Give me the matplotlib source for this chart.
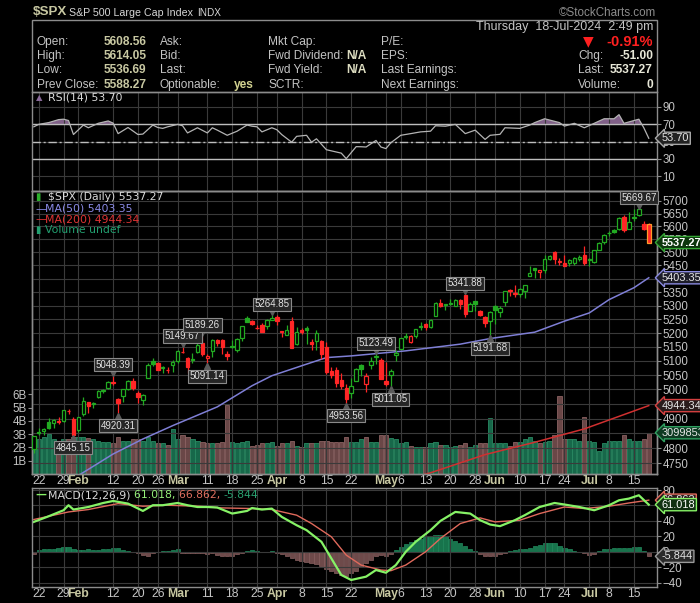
import pandas as pd
import matplotlib
matplotlib.use("Agg")
import matplotlib.pyplot as plt
from matplotlib import transforms
from matplotlib.patches import Rectangle
from matplotlib.ticker import NullLocator

plt.rcParams['font.family'] = ['Liberation Sans', 'DejaVu Sans']

# ---------------- data ----------------
holidays = ['2024-02-19', '2024-03-29', '2024-05-27', '2024-06-19', '2024-07-04']
days = pd.bdate_range('2024-01-19', '2024-07-18')
days = days[~days.isin(pd.to_datetime(holidays))]

opens = [
    4796.28, 4853.42, 4856.80, 4888.56, 4886.66,
    4888.91, 4892.95, 4925.89, 4899.19, 4861.11,
    4916.06, 4957.19, 4950.16, 4973.05, 4995.16,
    5004.17, 5026.83, 4967.94, 4976.44, 5003.14,
    5031.13, 4989.32, 4963.03, 5038.83, 5100.92,
    5093.00, 5074.60, 5067.20, 5085.36, 5098.51,
    5130.99, 5110.52, 5108.03, 5132.38, 5164.46,
    5111.96, 5134.30, 5173.49, 5175.14, 5123.31,
    5154.77, 5139.09, 5181.69, 5253.43, 5242.48,
    5219.52, 5228.85, 5226.31, 5248.03, 5257.97,
    5204.29, 5194.37, 5244.05, 5158.95, 5211.37,
    5217.03, 5167.88, 5172.95, 5171.51, 5149.67,
    5064.59, 5068.97, 5031.52, 5005.44, 4987.33,
    5028.85, 5084.86, 5019.88, 5084.65, 5114.13,
    5103.78, 5029.03, 5049.32, 5122.78, 5142.42,
    5187.20, 5168.98, 5189.03, 5225.49, 5233.08,
    5221.10, 5263.26, 5310.07, 5303.10, 5305.35,
    5298.69, 5319.28, 5340.26, 5281.45, 5315.91,
    5278.73, 5259.77, 5243.21, 5297.15, 5278.24,
    5314.48, 5357.80, 5343.81, 5341.22, 5353.00,
    5409.13, 5441.93, 5424.08, 5431.11, 5476.15,
    5499.99, 5466.77, 5459.58, 5460.73, 5460.71,
    5473.59, 5488.48, 5471.08, 5461.84, 5507.44,
    5537.91, 5572.75, 5584.24, 5591.26, 5635.21,
    5590.76, 5638.16, 5644.09, 5610.07, 5608.56,
]
highs = [
    4842.07, 4868.41, 4866.48, 4903.68, 4898.15,
    4906.69, 4929.31, 4931.09, 4906.75, 4906.97,
    4975.29, 4957.19, 4957.77, 4999.89, 5000.40,
    5030.06, 5048.39, 4971.30, 5002.52, 5032.72,
    5038.70, 4993.71, 4983.21, 5094.39, 5111.06,
    5097.66, 5080.69, 5077.37, 5104.99, 5140.33,
    5149.67, 5114.54, 5127.97, 5165.62, 5189.26,
    5124.66, 5179.87, 5179.14, 5176.85, 5136.86,
    5175.60, 5180.31, 5226.19, 5261.10, 5246.09,
    5229.09, 5235.16, 5249.26, 5264.85, 5263.95,
    5208.34, 5228.75, 5256.59, 5222.18, 5219.57,
    5224.81, 5178.43, 5211.78, 5175.03, 5168.43,
    5079.84, 5077.96, 5056.66, 5019.02, 5038.84,
    5076.12, 5089.48, 5057.75, 5114.62, 5123.49,
    5110.83, 5096.12, 5073.21, 5139.12, 5181.00,
    5200.23, 5191.95, 5215.30, 5239.66, 5237.26,
    5250.37, 5311.76, 5325.49, 5305.45, 5325.32,
    5324.32, 5323.18, 5341.88, 5311.65, 5315.91,
    5282.26, 5260.21, 5280.33, 5302.11, 5298.80,
    5354.16, 5362.35, 5375.08, 5365.79, 5375.95,
    5447.25, 5441.93, 5432.39, 5488.50, 5490.38,
    5505.53, 5478.31, 5490.66, 5472.88, 5483.14,
    5490.81, 5523.64, 5479.55, 5509.69, 5539.27,
    5570.33, 5583.11, 5590.75, 5635.39, 5642.45,
    5655.56, 5666.94, 5669.67, 5622.49, 5614.05,
]
lows = [
    4785.87, 4844.05, 4844.37, 4865.94, 4869.34,
    4881.47, 4887.40, 4916.27, 4845.15, 4853.52,
    4907.99, 4918.09, 4934.88, 4969.05, 4987.09,
    5000.34, 5016.83, 4920.31, 4956.45, 4999.44,
    4999.52, 4955.02, 4946.00, 5038.83, 5081.46,
    5068.91, 5057.29, 5058.35, 5061.89, 5094.16,
    5127.18, 5056.82, 5092.22, 5128.21, 5117.50,
    5091.14, 5114.48, 5151.88, 5123.30, 5104.35,
    5145.47, 5131.59, 5171.55, 5240.66, 5229.87,
    5216.09, 5203.42, 5213.92, 5245.82, 5229.20,
    5184.05, 5194.37, 5146.06, 5157.21, 5197.35,
    5160.78, 5138.70, 5138.77, 5107.94, 5052.47,
    5039.83, 5007.25, 5001.89, 4953.56, 4969.40,
    5027.96, 5047.02, 4990.58, 5073.14, 5088.65,
    5035.31, 5013.45, 5011.05, 5101.22, 5142.42,
    5178.96, 5165.86, 5180.41, 5209.68, 5211.16,
    5217.98, 5263.26, 5296.19, 5283.59, 5302.40,
    5297.87, 5286.01, 5256.93, 5278.39, 5280.89,
    5262.70, 5222.10, 5191.68, 5234.32, 5257.63,
    5297.64, 5335.36, 5331.33, 5331.52, 5327.25,
    5409.13, 5402.51, 5403.75, 5420.40, 5471.32,
    5455.56, 5452.03, 5447.59, 5446.56, 5451.87,
    5467.54, 5451.12, 5446.53, 5458.43, 5507.42,
    5531.63, 5562.51, 5574.57, 5586.44, 5576.53,
    5590.44, 5619.85, 5639.02, 5584.81, 5536.69,
]
closes = [
    4839.81, 4850.43, 4864.60, 4868.55, 4894.16,
    4890.97, 4927.93, 4924.97, 4845.65, 4906.19,
    4958.61, 4942.81, 4954.23, 4995.06, 4997.91,
    5026.61, 5021.84, 4953.17, 5000.62, 5029.73,
    5005.57, 4975.51, 4981.80, 5087.03, 5088.80,
    5069.53, 5078.18, 5069.76, 5096.27, 5137.08,
    5130.95, 5078.65, 5104.76, 5157.36, 5123.69,
    5117.94, 5175.27, 5165.31, 5150.48, 5117.09,
    5149.42, 5178.51, 5224.62, 5241.53, 5234.18,
    5218.19, 5203.58, 5248.49, 5254.35, 5243.77,
    5205.81, 5211.49, 5147.21, 5204.34, 5202.39,
    5209.91, 5160.64, 5199.06, 5123.41, 5061.82,
    5051.41, 5022.21, 5011.12, 4967.23, 5010.60,
    5070.55, 5071.63, 5048.42, 5099.96, 5116.17,
    5035.69, 5018.39, 5064.20, 5127.79, 5180.74,
    5187.70, 5187.67, 5214.08, 5222.68, 5221.42,
    5246.68, 5308.15, 5297.10, 5303.27, 5308.13,
    5321.41, 5307.01, 5267.84, 5304.72, 5306.04,
    5266.95, 5235.48, 5277.51, 5283.40, 5291.34,
    5354.03, 5352.96, 5346.99, 5360.79, 5375.32,
    5421.03, 5433.74, 5431.60, 5473.23, 5487.03,
    5473.17, 5464.62, 5447.87, 5469.30, 5477.90,
    5482.87, 5460.48, 5475.09, 5509.01, 5537.02,
    5567.19, 5572.85, 5576.98, 5633.91, 5584.54,
    5615.35, 5631.22, 5667.20, 5588.27, 5537.27,
]
# volume in billions
volume = [
    2.8, 2.6, 2.8, 3.0, 2.6, 2.5, 2.6, 2.6, 2.8, 2.8,
    2.8, 2.7, 2.6, 2.5, 2.4, 2.4, 2.3, 2.8, 2.5, 2.5,
    2.6, 2.6, 2.5, 2.8, 2.5, 2.3, 2.3, 2.2, 3.4, 2.6,
    2.9, 2.8, 2.6, 2.5, 2.4, 2.3, 2.3, 2.3, 2.4, 5.2,
    2.4, 2.3, 2.4, 2.5, 2.1, 2.2, 2.3, 2.3, 2.4, 2.1,
    2.3, 2.3, 2.5, 2.1, 2.05, 2.3, 2.3, 2.3, 2.5, 2.5,
    2.4, 2.4, 2.4, 2.8, 2.4, 2.4, 2.6, 2.8, 2.4, 2.4,
    2.9, 2.95, 2.7, 2.6, 2.3, 2.4, 2.1, 2.0, 2.0, 2.05,
    2.3, 2.4, 2.2, 2.2, 2.0, 2.1, 2.2, 2.3, 2.0, 2.2,
    2.3, 2.3, 4.2, 2.3, 2.3, 2.3, 2.1, 2.4, 2.4, 2.6,
    2.8, 2.5, 2.3, 2.4, 2.5, 2.9, 5.9, 2.6, 2.6, 2.6,
    2.5, 4.3, 2.5, 2.4, 1.7, 2.3, 2.5, 2.5, 2.5, 2.9,
    2.6, 2.5, 2.5, 2.6, 3.1,
]

ma50_day = [8, 16, 22, 28, 37, 44, 48, 54, 59, 64, 75, 86, 92, 101, 107, 112, 116, 121, 124]
ma50_val = [4700, 4781, 4831, 4876, 4940, 5013, 5048, 5083, 5112, 5118, 5136, 5160, 5180,
            5203, 5243, 5273, 5322, 5366, 5403.35]
ma200_day = [76, 80, 91, 101, 111, 124]
ma200_val = [4700, 4719, 4779, 4820, 4865, 4944.34]

rsi_day = [0, 1, 3, 5, 6, 7, 8, 10, 11, 13, 15, 16, 17, 19, 21, 22, 24, 25, 26, 27,
           29, 30, 31, 33, 35, 36, 37, 39, 41, 43, 44, 45, 46, 48, 49, 50, 52, 53, 54, 55,
           56, 57, 59, 62, 63, 65, 66, 67, 69, 70, 71, 72, 74, 76, 78, 80, 81, 83, 85, 87,
           89, 91, 92, 94, 95, 98, 100, 101, 103, 106, 107, 109, 111, 113, 115, 117, 118, 119,
           122, 123, 124]
rsi_val = [66.8, 69.6, 71.6, 75.0, 75.5, 74.0, 58.0, 68.8, 65.7, 70.8, 73.5, 71.0, 59.0, 66.0,
           58.0, 58.5, 68.8, 66.0, 65.0, 66.8, 69.6, 68.0, 59.8, 65.7, 59.8, 65.7, 63.0, 57.1,
           61.8, 68.8, 67.5, 66.8, 61.0, 65.7, 63.5, 57.9, 49.2, 55.9, 56.5, 57.1, 49.2, 53.1,
           40.6, 36.7, 30.4, 44.1, 44.0, 43.7, 51.2, 43.7, 41.9, 48.6, 57.1, 59.0, 61.0, 61.8,
           68.0, 67.5, 69.6, 59.0, 63.0, 52.4, 57.1, 58.2, 65.7, 65.0, 68.8, 71.6, 76.0, 71.6,
           67.6, 70.8, 65.7, 70.8, 76.0, 76.0, 80.7, 70.8, 75.5, 65.7, 53.7]

macd_day = [0, 3, 6, 7, 8, 11, 14, 16, 19, 22, 24, 26, 29, 31, 33, 35, 37, 40, 43, 44,
            46, 48, 50, 53, 55, 58, 60, 62, 64, 67, 69, 71, 73, 75, 77, 80, 82, 85, 88, 90,
            92, 94, 97, 99, 102, 105, 107, 110, 113, 116, 118, 120, 122, 124]
macd_val = [38.7, 46, 53.8, 60.3, 54.7, 58, 63.2, 65.8, 62.4, 52.9, 60.3, 60.3, 63.2, 60.3,
            58, 58, 57.3, 49.5, 52.9, 56.7, 54.7, 55.9, 45.2, 34.4, 28, 12.9, -8.6, -30, -36.5,
            -32.2, -23.6, -27.1, -17.2, 0, 12.9, 28, 40, 51.6, 49.5, 40.9, 35.3, 33.2, 40.9,
            47.4, 58, 63.2, 61.2, 58, 53.8, 60.3, 66.7, 68.9, 73.2, 61.018]
sig_day = [0, 7, 11, 17, 22, 27, 33, 38, 44, 48, 53, 56, 60, 63, 66, 70, 72, 75, 79, 82,
           86, 90, 93, 98, 102, 107, 111, 116, 120, 124]
sig_val = [41.8, 51.6, 54.7, 62.4, 59, 60.3, 59, 56.8, 56, 54.7, 47.4, 36.6, 19.4, -4.3,
           -17.2, -23.6, -24.5, -17.2, 0, 17.3, 36.6, 43.9, 38.7, 40.9, 49.5, 58, 56, 59,
           63.2, 66.862]
hist = [-3, 2, 3, 4, 4, 5, 6, 6, 3, 2,
        2, 3, 2, 2, 3, 4, 5, 5, 2, 1,
        0, -2, -4, -6, -2, 0, 1, 1, 2, 3,
        -1, -2, -1, -1, -2, -3, -2, -4, -5, -6,
        -5, -3, -1, 1, 2, 1, 0, 0, 1, -2,
        -3, -5, -8, -10, -12, -13, -14, -16, -18, -22,
        -25, -28, -30, -31, -28, -25, -20, -15, -10, -6,
        -4, -5, -3, 2, 6, 10, 13, 15, 17, 19,
        20, 22, 22, 20, 17, 14, 11, 8, 4, 1,
        -3, -5, -6, -6, -3, -1, 1, 2, 3, 4,
        5, 7, 9, 11, 12, 11, 8, 5, 3, 1,
        0, -2, -4, -3, 1, 3, 4, 5, 5, 5,
        5, 6, 6, 1, -5.844]

tick_dates = ['2024-01-22', '2024-01-29', '2024-02-01', '2024-02-12', '2024-02-20', '2024-02-26',
              '2024-03-01', '2024-03-11', '2024-03-18', '2024-03-25', '2024-04-01', '2024-04-08',
              '2024-04-15', '2024-04-22', '2024-05-01', '2024-05-06', '2024-05-13', '2024-05-20',
              '2024-05-28', '2024-06-03', '2024-06-10', '2024-06-17', '2024-06-24', '2024-07-01',
              '2024-07-08', '2024-07-15']
tick_lbl = ['22', '29', 'Feb', '12', '20', '26', 'Mar', '11', '18', '25', 'Apr', '8', '15', '22',
            'May', '6', '13', '20', '28', 'Jun', '10', '17', '24', 'Jul', '8', '15']

# (date, price, side) labels on swing highs / lows
notes = [('2024-01-31', 4845.15, 'low'), ('2024-02-12', 5048.39, 'high'),
         ('2024-02-13', 4920.31, 'low'), ('2024-03-04', 5149.67, 'high'),
         ('2024-03-08', 5189.26, 'high'), ('2024-03-11', 5091.14, 'low'),
         ('2024-03-28', 5264.85, 'high'), ('2024-04-19', 4953.56, 'low'),
         ('2024-04-29', 5123.49, 'high'), ('2024-05-02', 5011.05, 'low'),
         ('2024-05-23', 5341.88, 'high'), ('2024-05-31', 5191.68, 'low'),
         ('2024-07-16', 5669.67, 'high')]

# ---------------- styling ----------------
GREEN = '#22aa22'
RED = '#ff2626'
GRID = '#3a3a3a'
LBL = '#c4c4c4'
KHAKI = '#c8c8a2'
W, H = 700, 603
HF = 8.6   # header font size


def fx(px):
    return px / W


def fy(py):
    return 1 - py / H


def panel(top, bottom):
    return [fx(32.3), fy(bottom), fx(656.7) - fx(32.3), fy(top) - fy(bottom)]


def pos(d):
    return days.get_loc(pd.Timestamp(d))


fig = plt.figure(figsize=(7, 6.03), dpi=100, facecolor='black')

ax_r = fig.add_axes(panel(92, 191))
ax_p = fig.add_axes(panel(191, 474))
ax_v = ax_p.twinx()
ax_m = fig.add_axes(panel(488, 587))
ax_p.set_zorder(ax_v.get_zorder() + 1)
ax_p.patch.set_visible(False)

n = len(closes)
xs = list(range(n))
tick_pos = [pos(d) for d in tick_dates]

for ax in (ax_r, ax_p, ax_v, ax_m):
    ax.set_facecolor('black')
    for s in ax.spines.values():
        s.set_color('#8c8c8c')
        s.set_linewidth(1)
    ax.tick_params(colors='#8c8c8c', labelcolor=LBL, labelsize=8.3, length=3, width=0.8, pad=1)
    ax.tick_params(axis='x', length=0, pad=1)
    ax.set_xlim(-0.3, 125.6)
    ax.set_xticks(tick_pos)

# ---- RSI ----
ax_r.set_ylim(-6.6, 106.6)
ax_r.set_yticks([10, 30, 50, 70, 90])
ax_r.yaxis.tick_right()
ax_r.tick_params(axis='x', labelbottom=False)
ax_r.grid(True, color=GRID, lw=0.8)
ax_r.axhline(70, color='#bdbdbd', lw=1)
ax_r.axhline(30, color='#bdbdbd', lw=1)
ax_r.axhline(50, color='#bdbdbd', lw=1, dashes=(6, 2, 1.5, 2))
ax_r.fill_between(rsi_day, 70, rsi_val, where=[v > 70 for v in rsi_val],
                  interpolate=True, color='#806088', lw=0)
ax_r.plot(rsi_day, rsi_val, color='#b4b4b4', lw=0.9)

# ---- price ----
ax_p.set_yscale('log')
ax_p.set_ylim(4715, 5739)
pticks = list(range(4750, 5701, 50))
ax_p.set_yticks(pticks)
ax_p.set_yticklabels([str(t) for t in pticks])
ax_p.yaxis.set_minor_locator(NullLocator())
ax_p.yaxis.tick_right()
ax_p.grid(True, color=GRID, lw=0.8)

for i in xs:
    o, h, l, c = opens[i], highs[i], lows[i], closes[i]
    prev = closes[i - 1] if i else o
    col = GREEN if c >= prev else RED
    ax_p.vlines(i, l, h, color=col, lw=0.9, zorder=3)
    face = col if c < o else 'black'
    edge = '#ff9a2a' if i == n - 1 else col
    ax_p.bar(i, max(abs(c - o), 1.0), bottom=min(o, c), width=0.7,
             color=face, edgecolor=edge, lw=0.9, zorder=4)

ax_p.plot(ma50_day, ma50_val, color='#7f7fd6', lw=1.1, zorder=2)
ax_p.plot(ma200_day, ma200_val, color='#d03030', lw=1.1, zorder=2)

for d, v, side in notes:
    i = pos(d)
    up = side == 'high'
    ax_p.annotate(f'{v:.2f}', xy=(i, v), xytext=(0, 11 if up else -13),
                  textcoords='offset pixels', ha='center', va='center',
                  fontsize=7.0, color='#e2e2e2', zorder=8,
                  bbox=dict(boxstyle='square,pad=0.16', fc='#262626', ec='#8a8a8a', lw=0.8))
    tr = transforms.offset_copy(ax_p.transData, fig=fig, x=0, y=3 if up else -3, units='dots')
    ax_p.plot(i, v, marker='v' if up else '^', ms=5, color='#5a5a5a', transform=tr, zorder=7)

# ---- volume ----
ax_v.set_ylim(0, 283 / 13.3)
ax_v.set_yticks([1, 2, 3, 4, 5, 6])
ax_v.set_yticklabels([f'{k}B' for k in range(1, 7)])
ax_v.yaxis.tick_left()
vcol = []
vedge = []
for i in xs:
    up = closes[i] >= (closes[i - 1] if i else opens[i])
    vcol.append('#17684a' if up else '#6a4747')
    vedge.append('#2a8a62' if up else '#8a6262')
ax_v.bar(xs, volume, width=0.85, color=vcol, edgecolor=vedge, lw=0.6)

# ---- MACD ----
ax_m.set_ylim(-45.6, 82.6)
ax_m.set_yticks([-40, -20, 0, 20, 40, 60, 80])
ax_m.yaxis.tick_right()
ax_m.grid(True, color=GRID, lw=0.8)
hx = list(range(len(hist)))
ax_m.bar(hx, hist, width=0.85, color=['#17744c' if h >= 0 else '#6e4a4a' for h in hist],
         edgecolor=['#238a5e' if h >= 0 else '#886060' for h in hist], lw=0.5)
ax_m.plot(sig_day, sig_val, color='#e06a5c', lw=1.0)
ax_m.plot(macd_day, macd_val, color='#86f266', lw=1.6)

for ax in (ax_p, ax_m):
    ax.set_xticklabels(tick_lbl)
    for t in ax.get_xticklabels():
        t.set_fontsize(8.8)
        if t.get_text().isdigit():
            t.set_color(LBL)
        else:
            t.set_color(KHAKI)
            t.set_fontweight('bold')


# ---- right side value tags ----
def tag(ax, y, text, ec, fc, tc='#e6e6e6', ytr=None, bold=False):
    tr = transforms.blended_transform_factory(ax.transAxes, ytr if ytr is not None else ax.transData)
    ax.annotate(text, xy=(1.0, y), xycoords=tr, xytext=(5, 0), textcoords='offset pixels',
                ha='left', va='center', fontsize=7.9, color=tc,
                fontweight='bold' if bold else 'normal', annotation_clip=False, zorder=30,
                bbox=dict(boxstyle='larrow,pad=0.1', fc=fc, ec=ec, lw=1))


tag(ax_r, 53.70, '53.70', '#a8a8a8', '#222222')
tag(ax_p, 5537.27, '5537.27', '#35a635', '#0c360c', '#ffffff', bold=True)
tag(ax_p, 5403.35, '5403.35', '#8a8ae0', '#1e1e2a')
tag(ax_p, 4944.34, '4944.34', '#d44040', '#2a1c1c')
tag(ax_p, 3.1, '3099853', '#2fa060', '#0e3a22', ytr=ax_v.transData)
tag(ax_m, 66.862, '66.862', '#e06a5c', '#2a1c1c')
tag(ax_m, 61.018, '61.018', '#86f266', '#123012', '#ffffff')
tag(ax_m, -5.844, '-5.844', '#9a9a9a', '#2a2a2a')

# ---- header ----
fig.text(fx(32.7), fy(12.3), '$SPX', fontsize=9.6, fontweight='bold', color=KHAKI, va='center')
fig.text(fx(69.3), fy(12.5), 'S&P 500 Large Cap Index', fontsize=7.7, color='#d6d6d6', va='center')
fig.text(fx(196.7), fy(12.5), 'INDX', fontsize=7.2, color='#d6d6d6', va='center')
fig.text(fx(656), fy(12.5), '\u00a9StockCharts.com', fontsize=8.4, color='#8c8c8c',
         va='center', ha='right')
fig.add_artist(Rectangle((fx(32.3), fy(92)), fx(656.7) - fx(32.3), fy(20) - fy(92),
                         transform=fig.transFigure, fill=False, ec='#8c8c8c', lw=1))
fig.text(fx(653), fy(27), 'Thursday  18-Jul-2024  2:49 pm', fontsize=9, color=LBL,
         ha='right', va='center')

rows = [41.7, 55.7, 70.0, 84.8]
left_lab = ['Open:', 'High:', 'Low:', 'Prev Close:']
left_val = ['5608.56', '5614.05', '5536.69', '5588.27']
mid_lab = ['Ask:', 'Bid:', 'Last:', 'Optionable:']
cap_lab = ['Mkt Cap:', 'Fwd Dividend:', 'Fwd Yield:', 'SCTR:']
pe_lab = ['P/E:', 'EPS:', 'Last Earnings:', 'Next Earnings:']
for k, ry in enumerate(rows):
    fig.text(fx(36.7), fy(ry), left_lab[k], fontsize=HF, color=LBL, va='center')
    fig.text(fx(146.7), fy(ry), left_val[k], fontsize=HF, color=KHAKI, fontweight='bold',
             va='center', ha='right')
    fig.text(fx(160), fy(ry), mid_lab[k], fontsize=HF, color=LBL, va='center')
    fig.text(fx(268.3), fy(ry), cap_lab[k], fontsize=HF, color=LBL, va='center')
    fig.text(fx(381), fy(ry), pe_lab[k], fontsize=HF, color=LBL, va='center')
fig.text(fx(254), fy(rows[3]), 'yes', fontsize=HF, color='#d2d290', fontweight='bold',
         va='center', ha='right')
fig.text(fx(366.7), fy(rows[1]), 'N/A', fontsize=HF, color='#dcdcc0', fontweight='bold',
         va='center', ha='right')
fig.text(fx(366.7), fy(rows[2]), 'N/A', fontsize=HF, color='#dcdcc0', fontweight='bold',
         va='center', ha='right')
fig.text(fx(588), fy(rows[0]), '\u25bc', fontsize=10, color='#ff2020', va='center', ha='center',
         family=['DejaVu Sans'])
fig.text(fx(653), fy(rows[0]), '-0.91%', fontsize=10.5, color='#ff2020', fontweight='bold',
         va='center', ha='right')
right_lab = ['Chg:', 'Last:', 'Volume:']
right_val = ['-51.00', '5537.27', '0']
for k in range(3):
    fig.text(fx(578), fy(rows[k + 1]), right_lab[k], fontsize=HF, color=LBL, va='center')
    fig.text(fx(653), fy(rows[k + 1]), right_val[k], fontsize=HF, color='#e8e8d8',
             fontweight='bold', va='center', ha='right')

# ---- panel legends ----
SANS = ['DejaVu Sans']
LF = 7.8
fig.text(fx(35.5), fy(98), '\u25b2', fontsize=6, color='#8a6a9a', va='center', family=SANS)
fig.text(fx(47.7), fy(98), 'RSI(14) 53.70', fontsize=LF, color='#dadada', va='center', family=SANS)
fig.text(fx(35.5), fy(197.3), '\u25ae', fontsize=7, color='#2cb02c', va='center', family=SANS)
fig.text(fx(47.7), fy(197.3), '$SPX (Daily) 5537.27', fontsize=LF, color='#dadada',
         va='center', family=SANS)
fig.text(fx(35), fy(208.7), '\u2014', fontsize=LF, color='#8a8ae6', va='center', family=SANS)
fig.text(fx(45.3), fy(208.7), 'MA(50) 5403.35', fontsize=LF, color='#8a8ae6', va='center',
         family=SANS)
fig.text(fx(35), fy(219.5), '\u2014', fontsize=LF, color='#e03434', va='center', family=SANS)
fig.text(fx(45.3), fy(219.5), 'MA(200) 4944.34', fontsize=LF, color='#e03434', va='center',
         family=SANS)
fig.text(fx(35.5), fy(230), '\u25ae', fontsize=7, color='#22a070', va='center', family=SANS)
fig.text(fx(45.3), fy(230), 'Volume undef', fontsize=LF, color='#22a070', va='center', family=SANS)

fig.text(fx(35), fy(495), '\u2014', fontsize=LF, color='#86f266', va='center', family=SANS,
         fontweight='bold')
renderer = fig.canvas.get_renderer()
xpos = 47.7
for txt, col in [('MACD(12,26,9) ', '#dadada'), ('61.018, ', '#96f07a'),
                 ('66.862, ', '#e07060'), ('-5.844', '#2aa070')]:
    t = fig.text(fx(xpos), fy(495), txt, fontsize=LF, color=col, va='center', family=SANS)
    xpos = t.get_window_extent(renderer).x1

fig.savefig('out.png', dpi=100, facecolor='black')
